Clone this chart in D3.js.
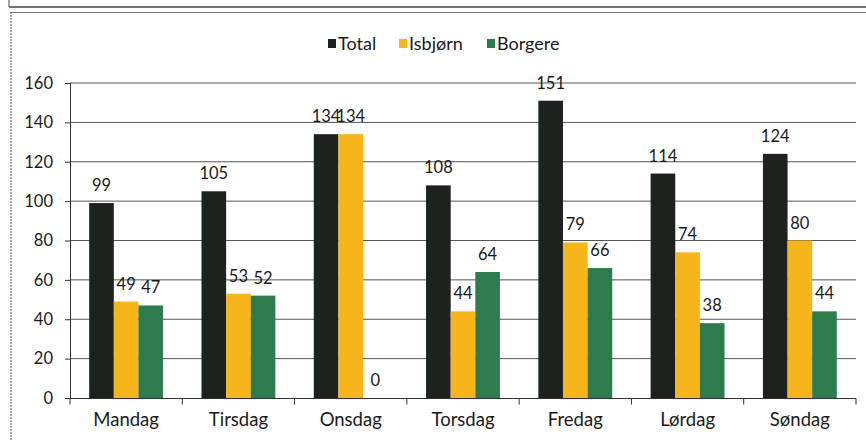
<!DOCTYPE html>
<html>
<head>
<meta charset="utf-8">
<style>
  body { margin: 0; background: #fff; font-family: Lato, "Open Sans", sans-serif; }
  .axis text { font-family: Lato, sans-serif; fill: #1a1a1a; }
  .y.axis text { font-size: 16.5px; }
  .x.axis text { font-size: 18.5px; }
  .axis .domain { stroke: #333; }
  .axis .tick line { stroke: #333; }
</style>
</head>
<body>
<div id="chart"></div>
<script src="https://d3js.org/d3.v7.min.js"></script>
<script>
  var days = ["Mandag", "Tirsdag", "Onsdag", "Torsdag", "Fredag", "Lørdag", "Søndag"];
  var series = ["Total", "Isbjørn", "Borgere"];
  var total = [99, 105, 134, 108, 151, 114, 124];
  var isbjorn = [49, 53, 134, 44, 79, 74, 80];
  var borgere = [47, 52, 0, 64, 66, 38, 44];
  var yTicks = [0, 20, 40, 60, 80, 100, 120, 140, 160];
  var colors = ["#1d221f", "#f6b51a", "#2e7c4d"];

  var W = 866, H = 441;
  var margin = { top: 83, left: 70, right: 10, bottom: 43 };

  var svg = d3.select("#chart").append("svg")
      .attr("width", W)
      .attr("height", H);

  // scanned frame lines
  svg.append("line").attr("x1", 9).attr("x2", W).attr("y1", 7).attr("y2", 7)
      .attr("stroke", "#444").attr("stroke-width", 1.5);
  svg.append("line").attr("x1", 9).attr("x2", 9).attr("y1", 0).attr("y2", 7)
      .attr("stroke", "#444");
  svg.append("line").attr("x1", 10).attr("x2", W).attr("y1", 12.5).attr("y2", 12.5)
      .attr("stroke", "#777");
  svg.append("line").attr("x1", 11).attr("x2", 11).attr("y1", 12).attr("y2", H)
      .attr("stroke", "#555").attr("stroke-dasharray", "2,1");

  var x0 = d3.scaleBand()
      .domain(days)
      .range([margin.left, 856]);

  var x1 = d3.scaleBand()
      .domain(series)
      .range([0, x0.bandwidth()])
      .paddingOuter(0.78);

  var y = d3.scaleLinear()
      .domain([0, 160])
      .range([398, 83]);

  var g = svg.append("g");

  // gridlines
  g.selectAll("line.grid")
      .data(yTicks.filter(function (d) { return d > 0; }))
      .enter().append("line")
      .attr("class", "grid")
      .attr("x1", margin.left)
      .attr("x2", 856)
      .attr("y1", function (d) { return y(d); })
      .attr("y2", function (d) { return y(d); })
      .attr("stroke", "#555")
      .attr("stroke-width", 1);

  var data = days.map(function (d, i) {
    return { day: d, values: [total[i], isbjorn[i], borgere[i]] };
  });

  var groups = g.selectAll("g.day")
      .data(data)
      .enter().append("g")
      .attr("class", "day")
      .attr("transform", function (d) { return "translate(" + x0(d.day) + ",0)"; });

  groups.selectAll("rect")
      .data(function (d) {
        return d.values.map(function (v, j) { return { s: series[j], v: v, j: j }; });
      })
      .enter().append("rect")
      .attr("x", function (d) { return x1(d.s); })
      .attr("y", function (d) { return y(d.v); })
      .attr("width", x1.bandwidth())
      .attr("height", function (d) { return y(0) - y(d.v); })
      .attr("fill", function (d) { return colors[d.j]; });

  groups.selectAll("text")
      .data(function (d) {
        return d.values.map(function (v, j) { return { s: series[j], v: v, j: j }; });
      })
      .enter().append("text")
      .attr("x", function (d) { return x1(d.s) + x1.bandwidth() / 2; })
      .attr("y", function (d) { return y(d.v) - 12; })
      .attr("text-anchor", "middle")
      .style("font-size", "16.5px")
      .style("fill", "#1a1a1a")
      .text(function (d) { return d.v; });

  // axes
  var yAxis = d3.axisLeft(y).tickValues(yTicks).tickSize(5).tickPadding(12);
  svg.append("g")
      .attr("class", "y axis")
      .attr("transform", "translate(" + margin.left + ",0)")
      .call(yAxis)
      .call(function (s) { s.select(".domain").attr("d", "M0.5,83V398.5"); });

  var xAxis = d3.axisBottom(x0).tickSize(0).tickPadding(14);
  var xg = svg.append("g")
      .attr("class", "x axis")
      .attr("transform", "translate(0,398.5)")
      .call(xAxis);
  xg.select(".domain").attr("d", "M" + margin.left + ",0H856");
  // category boundary ticks
  xg.selectAll("line.sep")
      .data(days.concat(["end"]))
      .enter().append("line")
      .attr("class", "sep")
      .attr("x1", function (d, i) { return i < days.length ? x0(d) : x0.range()[1]; })
      .attr("x2", function (d, i) { return i < days.length ? x0(d) : x0.range()[1]; })
      .attr("y1", 0).attr("y2", 6)
      .attr("stroke", "#333");

  // legend
  var legendItems = [
    { name: "Total", x: 328 },
    { name: "Isbjørn", x: 399 },
    { name: "Borgere", x: 487 }
  ];
  var lg = svg.append("g").attr("class", "legend");
  lg.selectAll("rect")
      .data(legendItems)
      .enter().append("rect")
      .attr("x", function (d) { return d.x; })
      .attr("y", 39)
      .attr("width", 8)
      .attr("height", 9)
      .attr("fill", function (d, i) { return colors[i]; });
  lg.selectAll("text")
      .data(legendItems)
      .enter().append("text")
      .attr("x", function (d) { return d.x + 10; })
      .attr("y", 50)
      .style("font-size", "18px")
      .style("fill", "#1a1a1a")
      .text(function (d) { return d.name; });
</script>
</body>
</html>
